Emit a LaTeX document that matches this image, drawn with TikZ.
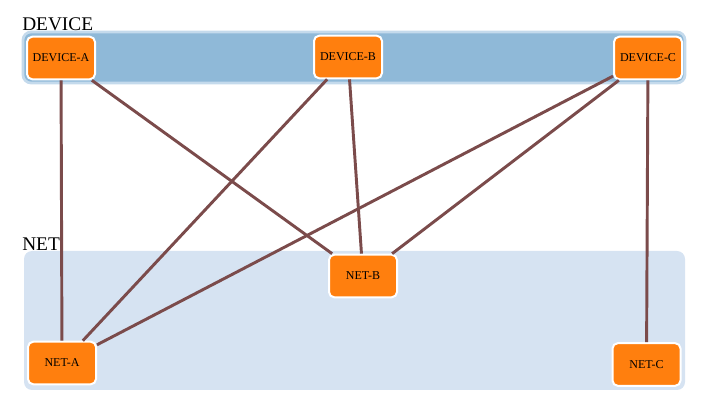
\documentclass[tikz,border=0pt]{standalone}
\usepackage{fontspec}
\setmainfont{Liberation Serif}
\usepackage{tikz}
\usetikzlibrary{positioning}
\definecolor{grpdark}{HTML}{8FB9D8}
\definecolor{grpedge}{HTML}{C4DAEC}
\definecolor{grplight}{HTML}{D6E3F2}
\definecolor{boxfill}{HTML}{FF7F0E}
\definecolor{linkcol}{HTML}{7B4B4B}

\begin{document}
\begin{tikzpicture}[x=0.75pt,y=-0.75pt,
 g/.style={rounded corners=6pt},
 gl/.style={font=\fontsize{14.5}{16}\selectfont,anchor=base west,inner sep=0pt},
 b/.style={draw=white,line width=1.5pt,fill=boxfill,rounded corners=4pt,
 minimum width=51pt,minimum height=32pt,inner sep=0pt,
 font=\fontsize{9}{10}\selectfont},
 l/.style={linkcol,line width=2.2pt}]
\useasboundingbox (0,0) rectangle (711,413);
% groups
\draw[g,fill=grpdark,draw=grpedge,line width=2pt] (23,32) rectangle (685,83);
\fill[g,grplight] (24,251) rectangle (685,390);
\node[gl] (devlbl) at (22,31) {DEVICE};
\node[gl] (netlbl) at (22,251) {NET};
% devices
\node[b] (da) at (61,58) {DEVICE-A};
\node[b] (db) at (348,57) {DEVICE-B};
\node[b] (dc) at (648,58) {DEVICE-C};
% nets
\node[b] (na) at (62,363) {NET-A};
\node[b] (nb) at (363,276) {NET-B};
\node[b] (nc) at (646.5,364.5) {NET-C};
% links
\draw[l] (da) -- (na);
\draw[l] (da) -- (nb);
\draw[l] (db) -- (na);
\draw[l] (db) -- (nb);
\draw[l] (dc) -- (na);
\draw[l] (dc) -- (nb);
\draw[l] (dc) -- (nc);
\end{tikzpicture}
\end{document}
